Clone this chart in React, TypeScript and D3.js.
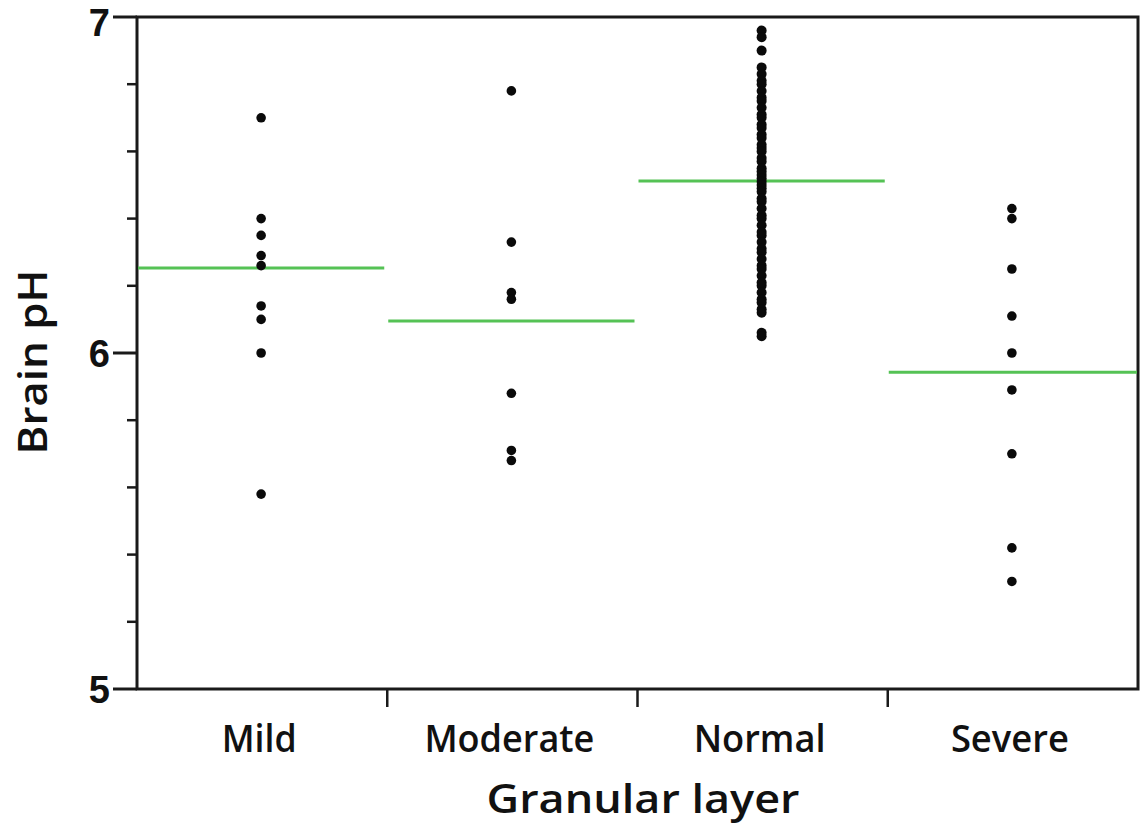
import React from "react";
import * as d3 from "d3";

const categories = ["Mild", "Moderate", "Normal", "Severe"];

const mildValues = [6.70, 6.40, 6.35, 6.29, 6.26, 6.14, 6.10, 6.00, 5.58];
const moderateValues = [6.78, 6.33, 6.18, 6.16, 5.88, 5.71, 5.68];
const normalValues = [
  6.96, 6.94, 6.90,
  6.85, 6.83, 6.81, 6.80, 6.78, 6.76, 6.75, 6.73, 6.71, 6.70, 6.68, 6.67,
  6.65, 6.64, 6.62, 6.61, 6.60, 6.58, 6.57, 6.55, 6.54, 6.53, 6.52, 6.51,
  6.50, 6.49, 6.48, 6.46, 6.45, 6.43, 6.41, 6.40, 6.38, 6.36, 6.35, 6.33,
  6.31, 6.30, 6.28, 6.26, 6.25, 6.23, 6.21, 6.20, 6.18, 6.16, 6.15, 6.13,
  6.12, 6.06, 6.05,
];
const severeValues = [6.43, 6.40, 6.25, 6.11, 6.00, 5.89, 5.70, 5.42, 5.32];

const groupMeans = [6.253, 6.095, 6.512, 5.943];

const yMajorTicks = [5, 6, 7];
const yMinorTicks = [5.2, 5.4, 5.6, 5.8, 6.2, 6.4, 6.6, 6.8];

const groups = [mildValues, moderateValues, normalValues, severeValues];

const W = 1143;
const H = 831;
const left = 137;
const right = 1138;
const top = 17;
const bottom = 689;

export default function App() {
  const x = d3.scaleBand<string>().domain(categories).range([left, right]).padding(0);
  const y = d3.scaleLinear().domain([5, 7]).range([bottom, top]);
  const bw = x.bandwidth();
  const font = "'Open Sans', 'Noto Sans', sans-serif";
  const digitFont = "'Liberation Sans', Arial, sans-serif";
  const labelWidths = [75, 170, 132, 118];

  return (
    <svg
      width={W}
      height={H}
      viewBox={`0 0 ${W} ${H}`}
      style={{ position: "absolute", left: 0, top: 0, background: "#fff" }}
    >
      <rect x={0} y={0} width={W} height={H} fill="#fff" />
      {/* frame */}
      <rect x={left} y={top} width={right - left} height={bottom - top} fill="none" stroke="#1a1a1a" strokeWidth={3} />

      {/* y ticks */}
      {yMajorTicks.map((t) => (
        <g key={"M" + t}>
          <line x1={113} x2={left} y1={y(t)} y2={y(t)} stroke="#1a1a1a" strokeWidth={3} />
          <text
            x={110}
            y={Math.max(y(t), 22)}
            dy="0.36em"
            textAnchor="end"
            fontFamily={digitFont}
            fontWeight={700}
            fontSize={38}
            fill="#111"
          >
            {t}
          </text>
        </g>
      ))}
      {yMinorTicks.map((t) => (
        <line key={"m" + t} x1={127} x2={left} y1={y(t)} y2={y(t)} stroke="#1a1a1a" strokeWidth={2.5} />
      ))}

      {/* x ticks at band boundaries */}
      {categories.slice(1).map((c) => (
        <line
          key={"xt" + c}
          x1={x(c)!}
          x2={x(c)!}
          y1={bottom}
          y2={707}
          stroke="#1a1a1a"
          strokeWidth={2.5}
        />
      ))}

      {/* x labels */}
      {categories.map((c, i) => (
        <text
          key={"xl" + c}
          x={x(c)! + bw / 2 - 3}
          y={752}
          textAnchor="middle"
          fontFamily={font}
          fontWeight={600}
          fontSize={37}
          fill="#111"
          textLength={labelWidths[i]}
          lengthAdjust="spacingAndGlyphs"
        >
          {c}
        </text>
      ))}

      {/* axis titles */}
      <text
        x={643}
        y={813}
        textAnchor="middle"
        fontFamily={font}
        fontWeight={600}
        fontSize={40}
        fill="#111"
        textLength={313}
        lengthAdjust="spacingAndGlyphs"
      >
        Granular layer
      </text>
      <text
        transform={`translate(47, 362) rotate(-90)`}
        textAnchor="middle"
        fontFamily={font}
        fontWeight={600}
        fontSize={40}
        fill="#111"
        textLength={185}
        lengthAdjust="spacingAndGlyphs"
      >
        Brain pH
      </text>

      {/* mean lines */}
      {categories.map((c, i) => (
        <line
          key={"mean" + c}
          x1={x(c)! + 1}
          x2={x(c)! + bw - (i === 3 ? 1 : 3)}
          y1={y(groupMeans[i])}
          y2={y(groupMeans[i])}
          stroke="#55c255"
          strokeWidth={3}
        />
      ))}

      {/* points */}
      {categories.map((c, i) =>
        groups[i].map((v, j) => (
          <circle
            key={c + j}
            cx={x(c)! + bw / 2 - 1}
            cy={y(v)}
            r={i === 2 ? 5 : 4.8}
            fill="#0a0a0a"
          />
        ))
      )}
    </svg>
  );
}
